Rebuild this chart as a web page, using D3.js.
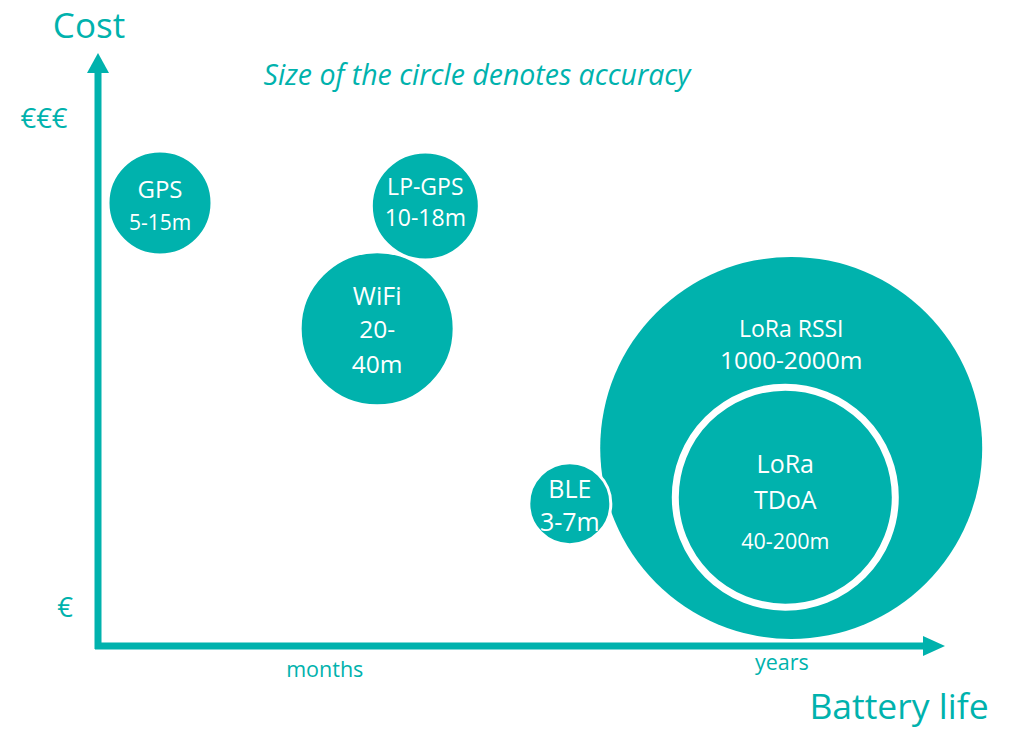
<!DOCTYPE html>
<html>
<head>
<meta charset="utf-8">
<script src="https://cdn.jsdelivr.net/npm/d3@7"></script>
<style>
  body { margin: 0; background: #fff; }
  text { font-family: "Open Sans", Lato, sans-serif; }
</style>
</head>
<body>
<div id="chart"></div>
<script>
// data (battery life and cost in 0-100 axis units)
const names = ["LoRa RSSI", "BLE", "WiFi", "LP-GPS", "GPS", "LoRa TDoA"];
const batteryLife = [81.8, 55.6, 32.8, 38.5, 7.1, 81.1];
const cost = [33.4, 24.0, 53.5, 74.2, 74.7, 25.1];
const circleSize = [95.5, 20.5, 38.5, 27, 26, 55];
const labelLines = [
  ["LoRa RSSI", "1000-2000m"],
  ["BLE", "3-7m"],
  ["WiFi", "20-", "40m"],
  ["LP-GPS", "10-18m"],
  ["GPS", "5-15m"],
  ["LoRa", "TDoA", "40-200m"]
];
const costTicks = ["€", "€€€"];
const lifeTicks = ["months", "years"];

const width = 1017, height = 731;
const teal = "#00b2ad";

const svg = d3.select("#chart").append("svg")
  .attr("width", width)
  .attr("height", height);

const x = d3.scaleLinear().domain([0, 100]).range([100, 945]);
const y = d3.scaleLinear().domain([0, 100]).range([646, 53]);
const r = d3.scaleLinear().domain([0, 100]).range([0, 200]);

// axes with arrow heads
const axisW = 7;
svg.append("line")
  .attr("x1", x(0) - 2).attr("x2", x(0) - 2)
  .attr("y1", y(0) + 3).attr("y2", y(100) + 18)
  .attr("stroke", teal).attr("stroke-width", axisW);
svg.append("path")
  .attr("d", `M${x(0) - 2},${y(100)} L${x(0) + 9},${y(100) + 20} L${x(0) - 13},${y(100) + 20} Z`)
  .attr("fill", teal);

svg.append("line")
  .attr("x1", x(0) - 5).attr("x2", x(100) - 20)
  .attr("y1", y(0)).attr("y2", y(0))
  .attr("stroke", teal).attr("stroke-width", axisW);
svg.append("path")
  .attr("d", `M${x(100)},${y(0)} L${x(100) - 22},${y(0) - 10} L${x(100) - 22},${y(0) + 10} Z`)
  .attr("fill", teal);

// bubbles
const rows = names.map((n, i) => ({
  name: n, life: batteryLife[i], cost: cost[i], size: circleSize[i], lines: labelLines[i]
}));

svg.append("g").selectAll("circle")
  .data(rows)
  .join("circle")
  .attr("cx", d => x(d.life))
  .attr("cy", d => y(d.cost))
  .attr("r", d => r(d.size))
  .attr("fill", teal)
  .attr("stroke", "#fff")
  .attr("stroke-width", d => d.name == "LoRa TDoA" ? 7 : (d.name == "LoRa RSSI" ? 0 : 3));

// label line layout: offset from circle centre, font size
const lineLayout = {
  "LoRa RSSI": [[-111, 23], [-79, 24.5]],
  "BLE": [[-6, 25], [27, 25]],
  "WiFi": [[-24, 25], [9, 24.5], [44, 24.5]],
  "LP-GPS": [[-11, 23], [20, 23]],
  "GPS": [[-5, 24], [27, 21]],
  "LoRa TDoA": [[-24, 25], [12, 25], [52, 21.5]]
};

const labels = svg.append("g").selectAll("g")
  .data(rows)
  .join("g")
  .attr("transform", d => `translate(${x(d.life)},${y(d.cost)})`);

labels.selectAll("text")
  .data(d => d.lines.map((t, j) => ({ t, dy: lineLayout[d.name][j][0], fs: lineLayout[d.name][j][1] })))
  .join("text")
  .attr("y", d => d.dy)
  .attr("text-anchor", "middle")
  .attr("fill", "#fff")
  .attr("font-size", d => d.fs)
  .text(d => d.t);

// axis titles and tick words
svg.append("text")
  .attr("x", 89).attr("y", 38)
  .attr("text-anchor", "middle")
  .attr("fill", teal).attr("font-size", 35)
  .text("Cost");

svg.append("text")
  .attr("x", 899).attr("y", 719)
  .attr("text-anchor", "middle")
  .attr("fill", teal).attr("font-size", 35.5)
  .text("Battery life");

svg.append("g").selectAll("text")
  .data(costTicks)
  .join("text")
  .attr("x", (d, i) => i == 0 ? 65 : 44)
  .attr("y", (d, i) => i == 0 ? y(4.9) : y(87.4))
  .attr("text-anchor", "middle")
  .attr("fill", teal).attr("font-size", 27.5)
  .text(d => d);

svg.append("g").selectAll("text")
  .data(lifeTicks)
  .join("text")
  .attr("x", (d, i) => i == 0 ? x(26.6) : x(80.7))
  .attr("y", (d, i) => i == 0 ? 677 : 670)
  .attr("text-anchor", "middle")
  .attr("fill", teal).attr("font-size", 21.5)
  .text(d => d);

svg.append("text")
  .attr("x", 477).attr("y", 85)
  .attr("text-anchor", "middle")
  .attr("fill", teal).attr("font-size", 28.5)
  .attr("font-style", "italic")
  .text("Size of the circle denotes accuracy");
</script>
</body>
</html>
